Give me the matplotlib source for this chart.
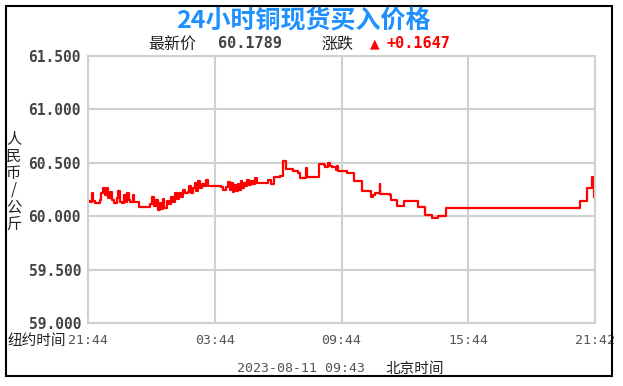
import matplotlib
matplotlib.use('Agg')
import matplotlib.pyplot as plt
from matplotlib.patches import Rectangle

# 时间(小时, 从 21:44 起) 和 价格
hours = [0.00, 0.10, 0.18, 0.22, 0.35, 0.55, 0.62, 0.70, 0.80, 0.88, 0.95, 1.05,
         1.15, 1.25, 1.35, 1.42, 1.50, 1.60, 1.70, 1.78, 1.85, 1.92, 2.00, 2.12,
         2.20, 2.40, 2.70, 2.95, 3.05, 3.12, 3.22, 3.30, 3.40, 3.48, 3.55, 3.62,
         3.75, 3.85, 3.95, 4.03, 4.12, 4.20, 4.30, 4.40, 4.50, 4.60, 4.72, 4.80,
         4.88, 4.98, 5.05, 5.12, 5.22, 5.30, 5.40, 5.50, 5.60, 5.68, 5.80, 6.00,
         6.30, 6.40, 6.55, 6.62, 6.70, 6.78, 6.85, 6.92, 7.00, 7.08, 7.15, 7.22,
         7.30, 7.40, 7.48, 7.55, 7.62, 7.72, 7.80, 7.90, 8.00, 8.15, 8.35, 8.50,
         8.65, 8.80, 9.02, 9.10, 9.25, 9.35, 9.50, 9.70, 9.95, 10.05, 10.30, 10.32,
         10.36, 10.90, 10.95, 11.15, 11.22, 11.35, 11.45, 11.55, 11.72, 11.78, 11.85, 12.05,
         12.25, 12.55, 12.60, 12.90, 12.95, 13.30, 13.40, 13.50, 13.60, 13.78, 13.80, 13.84,
         14.30, 14.35, 14.60, 14.62, 14.95, 14.96, 15.60, 15.62, 15.95, 15.97, 16.28, 16.30,
         16.55, 16.57, 16.95, 16.97, 23.27, 23.30, 23.60, 23.62, 23.85, 23.88, 23.92, 23.97]
prices = [60.14, 60.13, 60.22, 60.14, 60.12, 60.15, 60.22, 60.26, 60.20, 60.26, 60.17, 60.23,
          60.15, 60.12, 60.17, 60.24, 60.13, 60.12, 60.20, 60.13, 60.22, 60.15, 60.13, 60.20,
          60.13, 60.09, 60.09, 60.11, 60.18, 60.10, 60.15, 60.06, 60.12, 60.07, 60.16, 60.08,
          60.14, 60.11, 60.18, 60.13, 60.22, 60.16, 60.22, 60.18, 60.25, 60.22, 60.23, 60.28,
          60.22, 60.26, 60.31, 60.24, 60.33, 60.26, 60.30, 60.28, 60.34, 60.28, 60.28, 60.28,
          60.27, 60.25, 60.27, 60.32, 60.25, 60.31, 60.23, 60.29, 60.24, 60.30, 60.25, 60.33,
          60.26, 60.31, 60.28, 60.34, 60.29, 60.33, 60.30, 60.36, 60.31, 60.31, 60.31, 60.34,
          60.30, 60.37, 60.37, 60.38, 60.52, 60.44, 60.44, 60.42, 60.40, 60.36, 60.36, 60.45,
          60.37, 60.37, 60.49, 60.48, 60.46, 60.50, 60.47, 60.46, 60.43, 60.47, 60.42, 60.42,
          60.40, 60.40, 60.33, 60.33, 60.24, 60.24, 60.18, 60.20, 60.22, 60.22, 60.30, 60.21,
          60.20, 60.15, 60.15, 60.10, 60.10, 60.14, 60.14, 60.09, 60.09, 60.01, 60.01, 59.98,
          59.98, 60.00, 60.00, 60.08, 60.08, 60.14, 60.14, 60.26, 60.27, 60.37, 60.31, 60.18]

x_ticks = [0, 6, 12, 18, 24]
x_labels = ['21:44', '03:44', '09:44', '15:44', '21:42']
y_ticks = [59.0, 59.5, 60.0, 60.5, 61.0, 61.5]

W, H = 623, 386
fig = plt.figure(figsize=(W / 100, H / 100), dpi=100)
fig.patch.set_facecolor('white')

def fx(px):
    return px / W

def fy(py):
    return 1 - py / H

# 外框
fig.patches.append(Rectangle((fx(5.5), fy(376)), fx(612) - fx(5.5), fy(6) - fy(376),
                             transform=fig.transFigure, fill=False, edgecolor='black',
                             linewidth=1.5, zorder=0))

ax = fig.add_axes([fx(88), fy(323), fx(595) - fx(88), fy(56) - fy(323)])
ax.plot(hours, prices, drawstyle='steps-post', color='#ff0000', linewidth=1.6)
ax.set_xlim(0, 24)
ax.set_ylim(59.0, 61.5)
ax.set_xticks(x_ticks)
ax.set_xticklabels(x_labels, fontfamily='DejaVu Sans Mono', fontsize=9.5, color='#555555')
ax.set_yticks(y_ticks)
ax.set_yticklabels(['%.3f' % v for v in y_ticks], fontfamily='DejaVu Sans Mono',
                   fontweight='bold', fontsize=10.5, color='#444444')
ax.tick_params(length=0)
ax.tick_params(axis='y', pad=5)
ax.tick_params(axis='x', pad=8)
ax.grid(True, color='#d0d0d0', linewidth=1.5)
for s in ax.spines.values():
    s.set_color('#d0d0d0')
    s.set_linewidth(1.5)

cjk = ['Noto Sans CJK SC', 'DejaVu Sans']
mono = ['DejaVu Sans Mono', 'Noto Sans CJK SC']

fig.text(fx(303), fy(21), '24小时铜现货买入价格', ha='center', va='center',
         fontsize=18, fontweight='bold', color='#1e90ff', family=cjk)
fig.text(fx(172), fy(44), '最新价', ha='center', va='center', fontsize=11.5, color='#222222', family=cjk)
fig.text(fx(218), fy(44), '60.1789', ha='left', va='center', fontsize=11,
         fontweight='bold', color='#444444', family=mono)
fig.text(fx(337), fy(44), '涨跌', ha='center', va='center', fontsize=11.5, color='#222222', family=cjk)
fig.text(fx(375), fy(44), '▲', ha='center', va='center', fontsize=9, color='#ff0000',
         family=['DejaVu Sans'])
fig.text(fx(386), fy(44), '+0.1647', ha='left', va='center', fontsize=11,
         fontweight='bold', color='#ff0000', family=mono)

# 纵轴单位, 逐字竖排
for i, ch in enumerate('人民币/公斤'):
    fig.text(fx(14), fy(139 + i * 17), ch, ha='center', va='center', fontsize=11,
             color='#222222', family=cjk)

fig.text(fx(66), fy(341), '纽约时间', ha='right', va='center', fontsize=10.5, color='#222222', family=cjk)
fig.text(fx(301), fy(369), '2023-08-11 09:43', ha='center', va='center', fontsize=9.5,
         color='#555555', family=mono)
fig.text(fx(415), fy(369), '北京时间', ha='center', va='center', fontsize=10.5, color='#222222', family=cjk)

fig.savefig('out.png', dpi=100)
